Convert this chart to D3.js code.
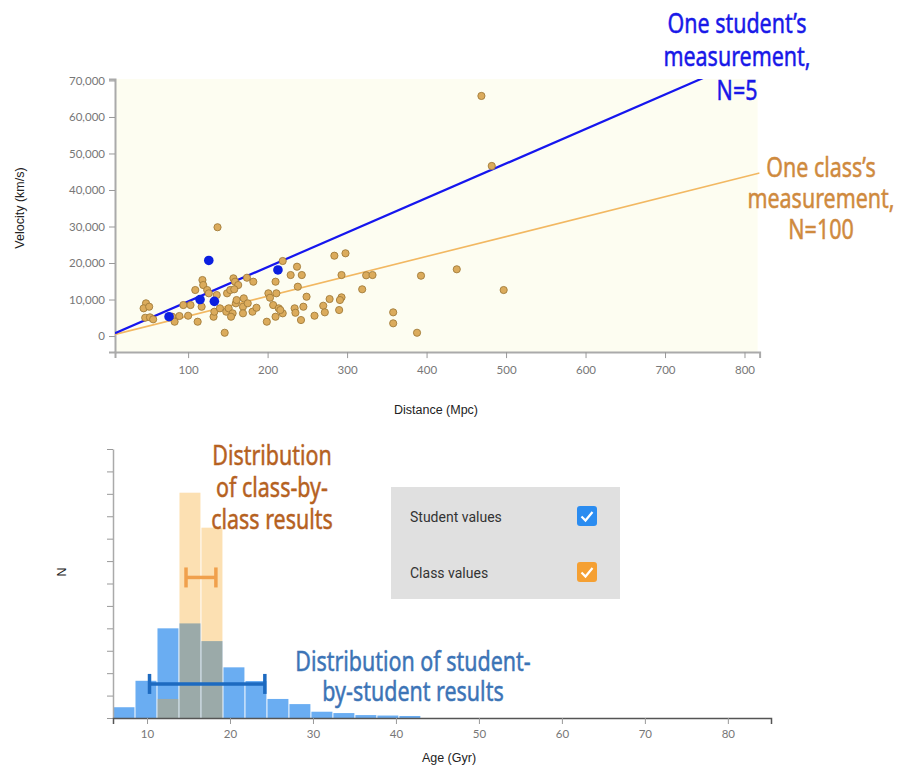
<!DOCTYPE html>
<html>
<head>
<meta charset="utf-8">
<script src="https://cdn.jsdelivr.net/npm/d3@7"></script>
<style>
body { margin: 0; background: #fff; }
svg { display: block; }
.axis text { font-family: Lato, sans-serif; font-size: 11.5px; fill: #777; }
.axis line { stroke: #999; }
.lbl { font-family: "Liberation Sans", Arial, sans-serif; font-size: 12.5px; fill: #222; }
.note { font-family: "Noto Sans", sans-serif; font-size: 27.5px; text-anchor: middle; stroke-width: 0.5; }
</style>
</head>
<body>
<svg width="903" height="767"></svg>
<script>
// Hubble diagram: one class (N=100) and one student (N=5)
var classDist = [137,47,44,51,46,52,56,80,83,89,100,94,103,112,109,118,119,124,117,126,
  132,133,140,136,146,148,149,153,151,157,159,163,156,154,160,169,170,169,175,174,
  182,181,186,199,201,203,207,210,211,210,214,219,219,229,237,238,243,234,235,242,
  249,245,259,270,272,278,284,290,293,293,291,298,319,324,332,393,438,497,358,358,
  388,469,482,216,161,158];
var classVel = [29800,8960,7590,8030,5010,5120,4580,5290,3920,5480,5560,8490,8490,3920,12600,15340,13970,12600,8030,11700,
  5290,6660,7590,11230,900,6660,11700,12600,7590,15810,14880,13970,6220,5290,8960,8030,10330,6220,8960,15970,
  14880,6660,7750,3920,11700,10490,8490,14880,11700,5290,7590,20550,6220,16710,18990,13510,16710,7590,6380,4380,
  10770,8030,5560,8300,6490,10140,22000,7120,16710,10600,9860,22660,12800,16630,16710,16520,18280,12600,6490,3480,
  900,65760,46580,7120,9860,12800];
var studentDist = [76, 115, 133, 126, 213];
var studentVel = [5300, 10000, 9500, 20700, 18100];
// fitted slopes (km/s per Mpc)
var studentH = 94.5;
var classH = 54.5;

var velTicks = [0, 10000, 20000, 30000, 40000, 50000, 60000, 70000];
var distTicks = [100, 200, 300, 400, 500, 600, 700, 800];

// age histogram (Gyr)
var binEdges = [5.9, 8.55, 11.2, 13.85, 16.5, 19.15, 21.8, 24.45, 27.1, 29.75, 32.4, 35.05, 37.7, 40.35, 43.0];
var studentHist = [0.48, 1.66, 4.0, 4.22, 3.43, 2.26, 1.65, 0.85, 0.62, 0.28, 0.22, 0.13, 0.11, 0.09];
var classHist = [0, 0, 0.85, 10.05, 8.49, 0, 0, 0, 0, 0, 0, 0, 0, 0];
var studentRange = [10.3, 24.2], studentBarN = 1.52;
var classRange = [14.7, 18.3], classBarN = 6.27;
var ageTicks = [10, 20, 30, 40, 50, 60, 70, 80];
var nTicks = d3.range(0, 13);

var svg = d3.select("svg");

// ---------- top: velocity vs distance ----------
var x = d3.scaleLinear().domain([8, 819]).range([115, 759.6]);
var y = d3.scaleLinear().domain([-4400, 70400]).range([352.1, 79]);

svg.append("rect")
    .attr("x", x.range()[0]).attr("y", y.range()[1])
    .attr("width", x.range()[1] - x.range()[0] - 2)
    .attr("height", y.range()[0] - y.range()[1])
    .attr("fill", "#fdfdf1");

svg.append("clipPath").attr("id", "plotclip")
  .append("rect")
    .attr("x", x.range()[0]).attr("y", y.range()[1])
    .attr("width", x.range()[1] - x.range()[0])
    .attr("height", y.range()[0] - y.range()[1]);

var yAxis = svg.append("g").attr("class", "axis")
    .attr("transform", "translate(" + x.range()[0] + ",0)")
    .call(d3.axisLeft(y).tickValues(velTicks).tickFormat(d3.format(",")).tickSize(6).tickPadding(4));
var xAxis = svg.append("g").attr("class", "axis")
    .attr("transform", "translate(0," + y.range()[0] + ")")
    .call(d3.axisBottom(x).tickValues(distTicks).tickSize(6).tickPadding(8));
svg.selectAll(".axis .domain").attr("stroke", "#aaa").attr("stroke-width", 2);

var fits = [{h: classH, color: "#f2b862", w: 1.6}, {h: studentH, color: "#1616ee", w: 2.2}];
svg.append("g").attr("clip-path", "url(#plotclip)")
  .selectAll("line").data(fits).enter().append("line")
    .attr("x1", x(x.domain()[0])).attr("y1", function(d) { return y(d.h * x.domain()[0]); })
    .attr("x2", x(x.domain()[1])).attr("y2", function(d) { return y(d.h * x.domain()[1]); })
    .attr("stroke", function(d) { return d.color; })
    .attr("stroke-width", function(d) { return d.w; });

svg.append("g").selectAll("circle")
    .data(d3.range(classDist.length)).enter().append("circle")
    .attr("cx", function(i) { return x(classDist[i]); })
    .attr("cy", function(i) { return y(classVel[i]); })
    .attr("r", 3.6)
    .attr("fill", "#dbab5c")
    .attr("stroke", "#a27c3a")
    .attr("stroke-width", 0.9);

svg.append("g").selectAll("circle")
    .data(d3.range(studentDist.length)).enter().append("circle")
    .attr("cx", function(i) { return x(studentDist[i]); })
    .attr("cy", function(i) { return y(studentVel[i]); })
    .attr("r", 4.8)
    .attr("fill", "#0b1fe0");

svg.append("text").attr("class", "lbl")
    .attr("transform", "translate(24,208) rotate(-90)")
    .attr("text-anchor", "middle")
    .text("Velocity (km/s)");
svg.append("text").attr("class", "lbl")
    .attr("x", 436).attr("y", 414)
    .attr("text-anchor", "middle")
    .text("Distance (Mpc)");

// condensed look: squeeze the annotation text horizontally
function note(lines, cx, y0, lh, color) {
    var g = svg.append("g")
        .attr("transform", "translate(" + cx + ",0) scale(0.78,1)");
    lines.forEach(function(s, i) {
        g.append("text").attr("class", "note")
            .attr("fill", color).attr("stroke", color)
            .attr("x", 0).attr("y", y0 + i * lh).text(s);
    });
}
note(["One student\u2019s", "measurement,", "N=5"], 737, 33, 33.5, "#1818e8");
note(["One class\u2019s", "measurement,", "N=100"], 821, 177, 31, "#cf8a3e");

// ---------- bottom: age histogram ----------
var a = d3.scaleLinear().domain([5.9, 85.2]).range([113, 771]);
var n = d3.scaleLinear().domain([0, 12]).range([718, 449]);

svg.append("g").selectAll("rect")
    .data(studentHist).enter().append("rect")
    .attr("x", function(d, i) { return a(binEdges[i]) + 0.5; })
    .attr("width", function(d, i) { return a(binEdges[i + 1]) - a(binEdges[i]) - 1; })
    .attr("y", function(d) { return n(d); })
    .attr("height", function(d) { return n(0) - n(d); })
    .attr("fill", "#6aadf2");

svg.append("g").selectAll("rect")
    .data(classHist).enter().append("rect")
    .attr("x", function(d, i) { return a(binEdges[i]) + 0.5; })
    .attr("width", function(d, i) { return a(binEdges[i + 1]) - a(binEdges[i]) - 1; })
    .attr("y", function(d) { return n(d); })
    .attr("height", function(d) { return n(0) - n(d); })
    .attr("fill", "#f5a623")
    .attr("fill-opacity", 0.35);

var errs = [
    {r: studentRange, v: studentBarN, color: "#1d6ac0"},
    {r: classRange, v: classBarN, color: "#f0a04c"}
];
errs.forEach(function(e) {
    var g = svg.append("g").attr("stroke", e.color).attr("stroke-width", 3.5);
    g.append("line").attr("x1", a(e.r[0])).attr("x2", a(e.r[1]))
        .attr("y1", n(e.v)).attr("y2", n(e.v));
    e.r.forEach(function(v) {
        g.append("line").attr("x1", a(v)).attr("x2", a(v))
            .attr("y1", n(e.v) - 10).attr("y2", n(e.v) + 10);
    });
});

var nAxis = svg.append("g").attr("class", "axis")
    .attr("transform", "translate(" + a.range()[0] + ",0)")
    .call(d3.axisLeft(n).tickValues(nTicks).tickFormat("").tickSize(6).tickSizeOuter(0));
nAxis.select(".domain").attr("stroke", "#aaa").attr("stroke-width", 1.5);

var aAxis = svg.append("g").attr("class", "axis")
    .attr("transform", "translate(0," + n(0) + ")")
    .call(d3.axisBottom(a).tickValues(ageTicks).tickSize(6).tickPadding(6));
aAxis.select(".domain").attr("stroke", "#555").attr("stroke-width", 1.5);

svg.append("text").attr("class", "lbl")
    .attr("x", 449).attr("y", 762)
    .attr("text-anchor", "middle")
    .text("Age (Gyr)");
svg.append("text").attr("class", "lbl")
    .attr("transform", "translate(66,572) rotate(-90)")
    .attr("text-anchor", "middle")
    .text("N");

note(["Distribution", "of class-by-", "class results"], 272, 465, 32, "#b5611f");
note(["Distribution of student-", "by-student results"], 413, 671, 30, "#3c74b6");

// legend
var legend = [
    {label: "Student values", color: "#2b8cf0"},
    {label: "Class values", color: "#f5a033"}
];
svg.append("rect").attr("x", 391).attr("y", 487).attr("width", 229).attr("height", 112)
    .attr("fill", "#e0e0e0");
var li = svg.selectAll(".leg").data(legend).enter().append("g")
    .attr("class", "leg")
    .attr("transform", function(d, i) { return "translate(0," + (i * 56) + ")"; });
li.append("text")
    .attr("x", 410).attr("y", 522)
    .attr("font-family", "Roboto, sans-serif").attr("font-size", "14px").attr("fill", "#333")
    .text(function(d) { return d.label; });
li.append("rect")
    .attr("x", 577).attr("y", 506).attr("width", 20).attr("height", 20).attr("rx", 3)
    .attr("fill", function(d) { return d.color; });
li.append("path")
    .attr("d", "M581.5,516.5 L585.5,520.5 L592.5,512")
    .attr("fill", "none").attr("stroke", "#fff").attr("stroke-width", 2.2);
</script>
</body>
</html>
